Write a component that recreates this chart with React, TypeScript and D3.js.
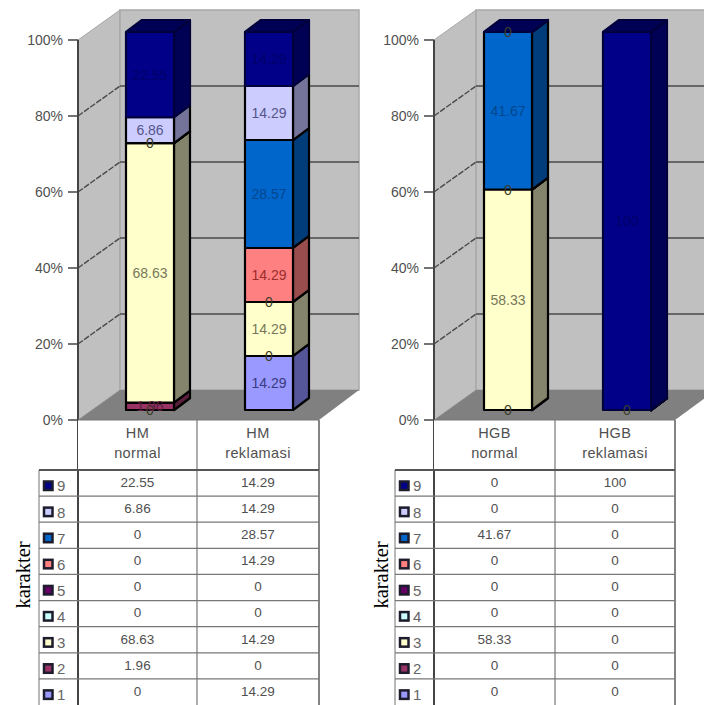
import React from "react";
import * as d3 from "d3";

// Series run bottom to top of each stacked column, keys 1..9.
const seriesKeys = ["1", "2", "3", "4", "5", "6", "7", "8", "9"];
const hmNormal = [0, 1.96, 68.63, 0, 0, 0, 0, 6.86, 22.55];
const hmReklamasi = [14.29, 0, 14.29, 0, 0, 14.29, 28.57, 14.29, 14.29];
const hgbNormal = [0, 0, 58.33, 0, 0, 0, 41.67, 0, 0];
const hgbReklamasi = [0, 0, 0, 0, 0, 0, 0, 0, 100];
const yTicks = [0, 20, 40, 60, 80, 100];

const frontColors = ["#9999ff", "#993366", "#ffffcc", "#ccffff", "#660066", "#ff8080", "#0066cc", "#ccccff", "#000088"];
const sideColors = ["#55559a", "#5c1f3d", "#84846c", "#7a9999", "#3d003d", "#994d4d", "#003d7a", "#74749a", "#000055"];
const labelColors = ["#3a3a80", "#5c1f3d", "#77775a", "#3a5555", "#3d003d", "#9a2d2d", "#00468c", "#55558a", "#00006a"];

const SANS = "'Liberation Sans', Arial, sans-serif";
const SERIF = "'Liberation Serif', 'Times New Roman', serif";
const WALL = "#c0c0c0";
const FLOOR = "#808080";
const GRID = "#4a4a4a";
const TEXT = "#505050";

const poly = (pts: [number, number][]) => pts.map((p) => p.join(",")).join(" ");

type PanelProps = {
  axisX: number;
  rowX: number;
  midX: number;
  endX: number;
  wallEnd: number;
  titleX: number;
  barsX: number[];
  rowTitle: string;
  columns: { top: string; bottom: string; values: number[] }[];
};

function Panel({ axisX, rowX, midX, endX, wallEnd, titleX, barsX, rowTitle, columns }: PanelProps) {
  const tickY = d3.scaleLinear().domain([0, 100]).range([420, 40]);
  const barY = d3.scaleLinear().domain([0, 1]).range([410, 32]);
  const wallX = axisX + 42;
  const depth = -30;
  const barW = 48;
  const bdx = 16;
  const bdy = -12;

  const rows = d3.range(9).map((i) => 470 + (i * 235) / 9);
  const rowKeys = [...seriesKeys].reverse();

  const table = columns.map((c) => Object.fromEntries(seriesKeys.map((k, i) => [k, c.values[i]])) as Record<string, number>);
  const stacked = d3.stack<Record<string, number>>().keys(seriesKeys).offset(d3.stackOffsetExpand)(table);

  const colCenters = [(axisX + midX) / 2, (midX + endX) / 2];

  return (
    <g>
      {/* walls and floor */}
      <polygon points={poly([[axisX, 40], [wallX, 10], [wallX, 390], [axisX, 420]])} fill={WALL} stroke="#a8a8a8" />
      <rect x={wallX} y={10} width={wallEnd - wallX} height={380} fill={WALL} stroke="#a8a8a8" strokeWidth={1.5} />
      <polygon points={poly([[axisX, 420], [wallX, 390], [wallEnd, 390], [endX, 420]])} fill={FLOOR} />

      {/* gridlines */}
      {yTicks.filter((t) => t > 0 && t < 100).map((t) => (
        <g key={t} stroke={GRID} fill="none" strokeWidth={1.4}>
          <line x1={axisX} y1={tickY(t)} x2={wallX} y2={tickY(t) + depth} strokeDasharray="6 1.5" />
          <line x1={wallX} y1={tickY(t) + depth} x2={wallEnd} y2={tickY(t) + depth} />
        </g>
      ))}

      {/* stacked columns */}
      {columns.map((c, j) => {
        const x0 = barsX[j];
        const x1 = x0 + barW;
        // zero-height segments that share a level print a single "0"
        const seenZero = new Set<number>();
        return (
          <g key={c.top + c.bottom} strokeWidth={2.2} strokeLinejoin="round">
            {stacked.map((s, si) => {
              const yb = barY(s[j][0]);
              const yt = barY(s[j][1]);
              const edge = si === 8 ? "#00003c" : "#000000";
              return (
                <g key={s.key} stroke={edge}>
                  <polygon
                    points={poly([[x1, yb], [x1 + bdx, yb + bdy], [x1 + bdx, yt + bdy], [x1, yt]])}
                    fill={sideColors[si]}
                  />
                  <rect x={x0} y={yt} width={barW} height={yb - yt} fill={frontColors[si]} />
                </g>
              );
            })}
            <polygon
              points={poly([[x0, barY(1)], [x0 + bdx, barY(1) + bdy], [x1 + bdx, barY(1) + bdy], [x1, barY(1)]])}
              fill={sideColors[8]}
              stroke="#00003c"
            />
            {stacked.map((s, si) => {
              const raw = c.values[si];
              const mid = barY((s[j][0] + s[j][1]) / 2);
              if (raw === 0) {
                const level = Math.round(mid);
                if (seenZero.has(level)) return null;
                seenZero.add(level);
              }
              return (
                <text
                  key={s.key}
                  x={x0 + barW / 2}
                  y={mid}
                  dy="0.36em"
                  textAnchor="middle"
                  fontFamily={SANS}
                  fontSize={14}
                  fill={raw === 0 ? "#3c3c28" : labelColors[si]}
                >
                  {raw}
                </text>
              );
            })}
          </g>
        );
      })}

      {/* value axis */}
      <line x1={axisX} y1={40} x2={axisX} y2={705} stroke="#444444" strokeWidth={2} />
      {yTicks.map((t) => (
        <g key={t}>
          <line x1={axisX - 10} y1={tickY(t)} x2={axisX} y2={tickY(t)} stroke="#444444" strokeWidth={1.5} />
          <text x={axisX - 15} y={tickY(t)} dy="0.36em" textAnchor="end" fontFamily={SANS} fontSize={14} fill={TEXT}>
            {t}%
          </text>
        </g>
      ))}

      {/* data table */}
      <rect x={axisX} y={420} width={endX - axisX} height={50} fill="#ffffff" />
      <line x1={axisX} y1={420} x2={endX} y2={420} stroke="#777777" />
      <line x1={midX} y1={420} x2={midX} y2={705} stroke="#777777" strokeWidth={1.2} />
      <line x1={endX} y1={420} x2={endX} y2={705} stroke="#777777" strokeWidth={1.8} />
      <line x1={rowX} y1={470} x2={rowX} y2={705} stroke="#8a8a8a" strokeWidth={1.2} />
      <line x1={rowX} y1={470} x2={endX} y2={470} stroke="#555555" strokeWidth={2} />
      {rows.slice(1).map((y) => (
        <line key={y} x1={rowX} y1={y} x2={endX} y2={y} stroke="#777777" strokeWidth={1.2} />
      ))}
      {columns.map((c, j) => (
        <g key={c.top + c.bottom} fontFamily={SANS} fontSize={14.5} letterSpacing={0.4} fill={TEXT} textAnchor="middle">
          <text x={colCenters[j]} y={433} dy="0.36em">{c.top}</text>
          <text x={colCenters[j]} y={453} dy="0.36em">{c.bottom}</text>
        </g>
      ))}
      {rowKeys.map((k, r) => {
        const si = seriesKeys.indexOf(k);
        const y = rows[r];
        return (
          <g key={k}>
            <rect x={rowX + 5} y={y + 11.5} width={8.5} height={8.5} fill={frontColors[si]} stroke="#1c1c2c" strokeWidth={2.5} />
            <text x={rowX + 18} y={y + 16} dy="0.36em" fontFamily={SANS} fontSize={15} fill="#666666">{k}</text>
            {columns.map((c, j) => (
              <text key={j} x={colCenters[j]} y={y + 12} dy="0.36em" textAnchor="middle" fontFamily={SANS} fontSize={13.5} fill={TEXT}>
                {c.values[si]}
              </text>
            ))}
          </g>
        );
      })}

      <text
        transform={`translate(${titleX},575) rotate(-90)`}
        textAnchor="middle"
        fontFamily={SERIF}
        fontSize={20.5}
        fill="#000000"
      >
        {rowTitle}
      </text>
    </g>
  );
}

export default function App() {
  return (
    <svg width={704} height={705} style={{ position: "absolute", left: 0, top: 0, display: "block", background: "#ffffff" }}>
      <Panel
        axisX={78}
        rowX={39}
        midX={197}
        endX={319}
        wallEnd={359}
        titleX={30}
        barsX={[126, 245]}
        rowTitle="karakter"
        columns={[
          { top: "HM", bottom: "normal", values: hmNormal },
          { top: "HM", bottom: "reklamasi", values: hmReklamasi },
        ]}
      />
      <Panel
        axisX={434}
        rowX={395}
        midX={555}
        endX={675}
        wallEnd={716}
        titleX={388}
        barsX={[484, 603]}
        rowTitle="karakter"
        columns={[
          { top: "HGB", bottom: "normal", values: hgbNormal },
          { top: "HGB", bottom: "reklamasi", values: hgbReklamasi },
        ]}
      />
    </svg>
  );
}
